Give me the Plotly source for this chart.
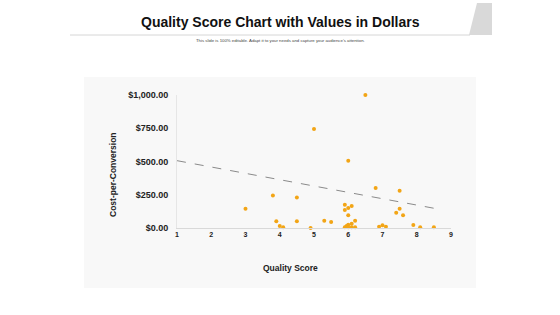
import plotly.graph_objects as go

quality_score = [6.5, 5.0, 6.0, 6.8, 7.5, 4.5, 3.8, 3.0, 4.5, 3.9, 4.0, 4.1, 4.9, 5.3, 5.5,
                 5.9, 5.9, 6.0, 6.1, 6.0, 6.2, 6.1, 5.9, 5.95, 6.0, 6.0, 6.1, 6.2,
                 6.9, 7.0, 7.1, 7.4, 7.5, 7.6, 7.9, 8.1, 8.5]
cost_per_conversion = [1000, 745, 505, 300, 280, 230, 245, 145, 50, 50, 15, 5, 0, 55, 45,
                       175, 135, 150, 165, 95, 55, 32, 5, 15, 25, 5, 5, 5,
                       10, 20, 10, 115, 145, 95, 22, 5, 5]
x_ticks = [1, 2, 3, 4, 5, 6, 7, 8, 9]
y_ticks = [0, 250, 500, 750, 1000]
y_tick_labels = ["$0.00", "$250.00", "$500.00", "$750.00", "$1,000.00"]

# linear trendline (as shown in the chart), drawn over this x span
trend_x = [1, 8.5]
trend_slope = -47.7
trend_intercept = 554
trend_y = [trend_slope * x + trend_intercept for x in trend_x]

W, H = 560, 315
L, R, T, B = 177, 451, 95, 228  # plot area in pixels

def px(x): return (x - L) / (R - L)
def py(y): return (B - y) / (B - T)

fig = go.Figure()
fig.add_trace(go.Scatter(x=trend_x, y=trend_y, mode="lines",
                         line=dict(color="#8a8a8a", width=1, dash="dash"),
                         hoverinfo="skip"))
fig.add_trace(go.Scatter(x=quality_score, y=cost_per_conversion, mode="markers",
                         marker=dict(color="#F2A516", size=4),
                         cliponaxis=False))

shapes = [
    dict(type="rect", xref="paper", yref="paper", x0=px(84), x1=px(476), y0=py(288), y1=py(77),
         fillcolor="#f8f8f8", line=dict(width=0), layer="below"),
    dict(type="line", xref="paper", yref="paper", x0=px(70), x1=px(470), y0=py(35), y1=py(35),
         line=dict(color="#d6d6d6", width=1)),
    dict(type="path", xref="paper", yref="paper",
         path=f"M {px(469)} {py(35)} L {px(477)} {py(3)} L {px(492)} {py(3)} L {px(492)} {py(35)} Z",
         fillcolor="#d9d9d9", line=dict(width=0)),
]

annotations = [
    dict(text="<b>Quality Score Chart with Values in Dollars</b>", xref="paper", yref="paper",
         x=px(280), y=py(22), xanchor="center", yanchor="middle", showarrow=False,
         font=dict(family="Liberation Sans", size=14, color="#111")),
    dict(text="This slide is 100% editable. Adapt it to your needs and capture your audience's attention.",
         xref="paper", yref="paper", x=px(280), y=py(41), xanchor="center", yanchor="middle",
         showarrow=False, font=dict(family="Liberation Sans", size=4.3, color="#444")),
    dict(text="<b>Cost-per-Conversion</b>", xref="paper", yref="paper",
         x=px(113), y=py(175), xanchor="center", yanchor="middle", textangle=-90,
         showarrow=False, font=dict(family="Liberation Sans", size=8.5, color="#222")),
    dict(text="<b>Quality Score</b>", xref="paper", yref="paper",
         x=px(290), y=py(268), xanchor="center", yanchor="middle",
         showarrow=False, font=dict(family="Liberation Sans", size=8.5, color="#222")),
]

fig.update_layout(
    width=W, height=H, showlegend=False,
    paper_bgcolor="white", plot_bgcolor="rgba(0,0,0,0)",
    margin=dict(l=L, r=W - R, t=T, b=H - B),
    shapes=shapes, annotations=annotations,
    xaxis=dict(range=[1, 9], tickvals=x_ticks, showgrid=False, zeroline=False,
               showline=True, linecolor="#d9d9d9", linewidth=1, ticks="",
               tickfont=dict(family="Liberation Sans", size=7, color="#222", weight="bold")),
    yaxis=dict(range=[0, 1000], tickvals=y_ticks, ticktext=y_tick_labels, showgrid=False,
               zeroline=False, showline=True, linecolor="#e6e6e6", linewidth=1, ticks="",
               ticklabelstandoff=6,
               tickfont=dict(family="Liberation Sans", size=9, color="#222", weight="bold")),
)

fig.write_html("out.html")
